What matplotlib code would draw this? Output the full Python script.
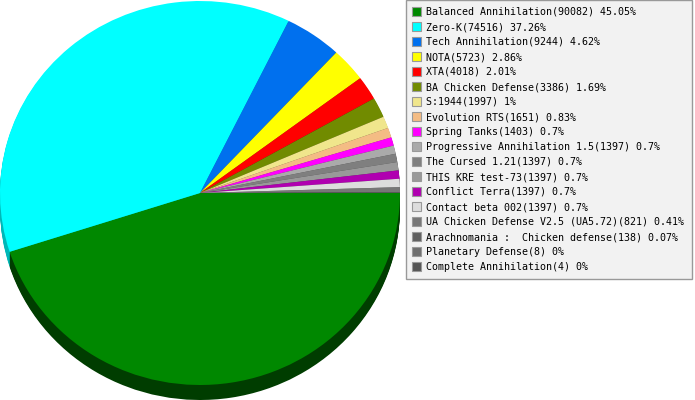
import numpy as np
import matplotlib
matplotlib.use("Agg")
import matplotlib.pyplot as plt
from matplotlib.colors import to_rgb
from matplotlib.patches import Rectangle

# Games and their player counts
games = ["Balanced Annihilation", "Zero-K", "Tech Annihilation", "NOTA", "XTA",
         "BA Chicken Defense", "S:1944", "Evolution RTS", "Spring Tanks",
         "Progressive Annihilation 1.5", "The Cursed 1.21", "THIS KRE test-73",
         "Conflict Terra", "Contact beta 002", "UA Chicken Defense V2.5 (UA5.72)",
         "Arachnomania :  Chicken defense", "Planetary Defense", "Complete Annihilation"]
counts = [90082, 74516, 9244, 5723, 4018, 3386, 1997, 1651, 1403,
          1397, 1397, 1397, 1397, 1397, 821, 138, 8, 4]
percents = ["45.05%", "37.26%", "4.62%", "2.86%", "2.01%", "1.69%", "1%", "0.83%", "0.7%",
            "0.7%", "0.7%", "0.7%", "0.7%", "0.7%", "0.41%", "0.07%", "0%", "0%"]
colors = ["#008800", "#00ffff", "#0070ee", "#ffff00", "#ff0000", "#718b00", "#f0e68c",
          "#f4bc84", "#ff00ff", "#aaaaaa", "#7f7f7f", "#999999", "#b000b0", "#dddddd",
          "#777777", "#5f5f5f", "#6f6f6f", "#555555"]

W, H = 695, 400
fig = plt.figure(figsize=(W / 100, H / 100), dpi=100)
ax = fig.add_axes([0, 0, 1, 1])

# pie top face is an ellipse: 200 px wide radius, 192 px tall radius
sy = 200 / 192
cx, cy = 200, (H - 193) * sy
depth = 15

def shade(c, f):
    r, g, b = to_rgb(c)
    return (r * f, g * f, b * f)

side_colors = [shade(c, 0.45) for c in colors]
side_colors[1] = shade(colors[1], 0.72)

# extruded side, drawn as stacked copies of the pie
for d in range(depth, 0, -1):
    ax.pie(counts, colors=side_colors, startangle=0, counterclock=False,
           radius=200, center=(cx, cy - d * sy), frame=True,
           wedgeprops=dict(linewidth=0))

wedges, _ = ax.pie(counts, colors=colors, startangle=0, counterclock=False,
                   radius=200, center=(cx, cy), frame=True,
                   wedgeprops=dict(linewidth=0))

ax.set_aspect("auto")
ax.set_xlim(0, W)
ax.set_ylim(0, H * sy)
ax.axis("off")

# legend box (drawn by hand so its size matches)
ax.add_patch(Rectangle((405.5 / W, 1 - 278.5 / H), 286 / W, 279 / H,
                       transform=fig.transFigure, facecolor="#f2f2f2",
                       edgecolor="#999999", linewidth=1, zorder=5))

labels = [f"{g}({c}) {p}" for g, c, p in zip(games, counts, percents)]
leg = ax.legend(wedges, labels, loc="upper left",
                bbox_to_anchor=(405 / W, 1.0), bbox_transform=fig.transFigure,
                borderaxespad=0, prop={"family": "DejaVu Sans Mono", "size": 7.2},
                handlelength=0.9, handleheight=0.9, handletextpad=0.5,
                labelspacing=0.5, borderpad=0.7, frameon=False)
leg.set_zorder(10)
for h in leg.legend_handles:
    h.set_edgecolor("#999999")
    h.set_linewidth(0.8)

fig.savefig("out.png", dpi=100)
